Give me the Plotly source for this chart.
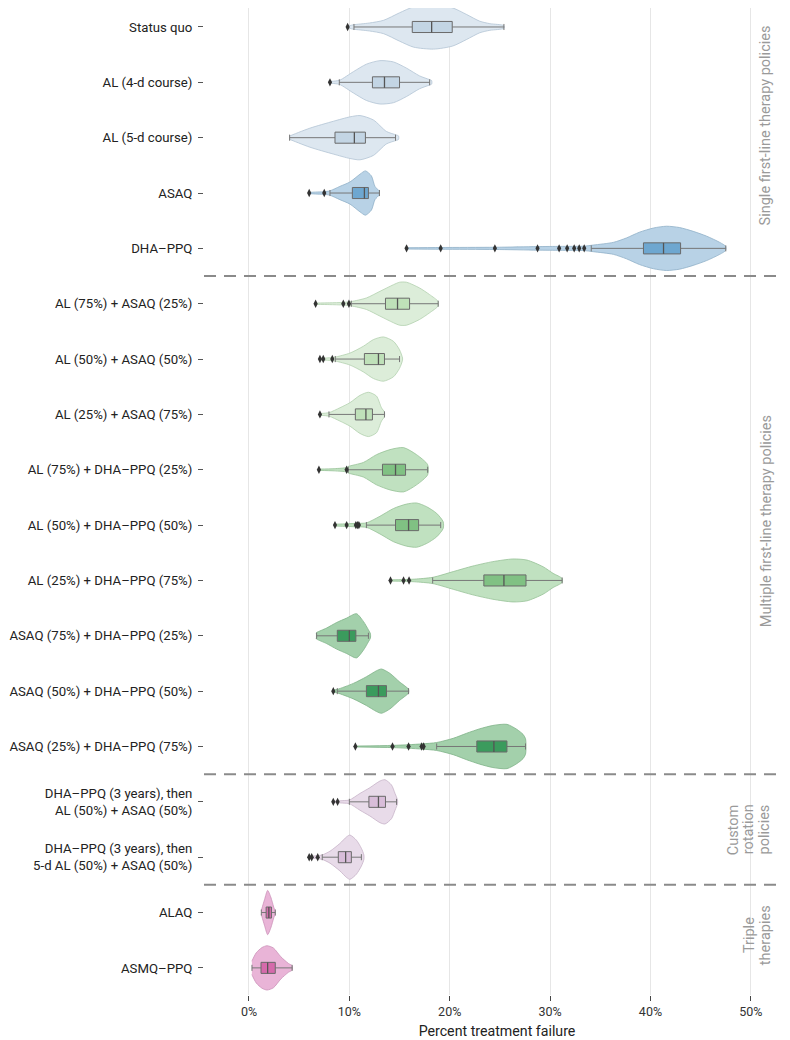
import plotly.graph_objects as go

labels = ["Status quo", "AL (4-d course)", "AL (5-d course)", "ASAQ", "DHA–PPQ",
          "AL (75%) + ASAQ (25%)", "AL (50%) + ASAQ (50%)", "AL (25%) + ASAQ (75%)",
          "AL (75%) + DHA–PPQ (25%)", "AL (50%) + DHA–PPQ (50%)", "AL (25%) + DHA–PPQ (75%)",
          "ASAQ (75%) + DHA–PPQ (25%)", "ASAQ (50%) + DHA–PPQ (50%)", "ASAQ (25%) + DHA–PPQ (75%)",
          "DHA–PPQ (3 years), then<br>AL (50%) + ASAQ (50%)",
          "DHA–PPQ (3 years), then<br>5-d AL (50%) + ASAQ (50%)",
          "ALAQ", "ASMQ–PPQ"]
group = [0, 0, 0, 1, 1, 2, 2, 2, 3, 3, 3, 4, 4, 4, 5, 5, 6, 6]

# box statistics (percent treatment failure)
lower = [10.46, 9.0, 4.05, 8.07, 34.1, 10.2, 8.6, 7.97, 9.9, 11.7, 18.3, 6.74, 8.8, 18.7, 10.0, 7.3, 1.23, 0.3]
q1 = [16.27, 12.3, 8.57, 10.3, 39.3, 13.6, 11.5, 10.6, 13.3, 14.6, 23.4, 8.8, 11.7, 22.7, 11.95, 8.9, 1.71, 1.2]
median = [18.2, 13.5, 10.5, 11.5, 41.3, 14.8, 12.9, 11.65, 14.6, 15.9, 25.4, 10.0, 12.9, 24.4, 12.9, 9.63, 1.98, 1.86]
q3 = [20.25, 15.0, 11.6, 11.9, 43.0, 16.0, 13.5, 12.3, 15.6, 16.9, 27.6, 10.65, 13.7, 25.7, 13.6, 10.2, 2.24, 2.62]
upper = [25.4, 18.0, 14.6, 13.0, 47.5, 18.85, 15.0, 13.5, 17.8, 19.1, 31.2, 11.9, 15.9, 27.55, 14.7, 11.2, 2.62, 4.3]

outliers = [
    [9.83], [8.07], [], [6.0, 7.5],
    [15.7, 19.1, 24.5, 28.75, 30.9, 31.7, 32.4, 32.9, 33.4],
    [6.64, 9.4, 9.96], [7.07, 7.4, 8.3], [7.07], [6.97, 9.73],
    [8.57, 9.73, 10.65, 10.8, 10.95], [14.1, 15.4, 15.95], [], [8.4],
    [10.6, 14.3, 15.9, 17.2, 17.4], [8.4, 8.83], [6.0, 6.25, 6.85], [], [],
]

# violin outline: positions (percent) and relative half-widths (0..1)
violin_x = [
    [9.83, 10.2, 10.4, 12.0, 13.4, 15.0, 16.4, 18.4, 20.3, 21.7, 23.0, 24.0, 25.4],
    [8.07, 8.6, 9.06, 10.4, 11.7, 13.05, 14.4, 15.7, 17.0, 18.0, 18.2],
    [4.0, 4.08, 6.07, 8.4, 10.06, 11.06, 12.4, 13.7, 14.7, 14.9],
    [6.0, 7.0, 7.5, 8.07, 9.06, 10.06, 11.06, 11.6, 12.2, 12.55, 12.98],
    [15.7, 19.1, 24.5, 28.75, 31.0, 33.4, 34.3, 36.3, 37.6, 38.9, 40.3, 41.6, 42.9, 44.25, 45.6, 46.9, 47.5],
    [6.64, 8.0, 9.4, 10.2, 11.7, 13.05, 14.4, 15.0, 15.7, 17.0, 18.0, 18.85],
    [7.07, 7.7, 8.3, 8.7, 10.06, 11.4, 12.4, 13.4, 14.4, 15.0, 15.3],
    [7.07, 7.97, 9.06, 10.06, 11.06, 11.9, 12.7, 13.2, 13.5],
    [6.97, 8.5, 9.73, 9.9, 11.4, 12.7, 14.05, 15.4, 16.7, 17.8],
    [8.57, 9.73, 10.8, 11.7, 13.05, 14.4, 15.7, 16.7, 17.7, 18.7, 19.35],
    [14.1, 15.4, 16.5, 18.3, 20.35, 22.3, 24.3, 26.3, 27.7, 29.3, 30.3, 31.2],
    [6.67, 6.74, 7.73, 8.73, 9.73, 10.7, 11.4, 11.9, 12.1],
    [8.4, 8.8, 10.4, 11.7, 12.7, 13.2, 14.05, 15.0, 15.9],
    [10.6, 14.3, 15.9, 17.3, 18.7, 20.35, 21.7, 23.0, 24.3, 25.7, 26.7, 27.3, 27.55],
    [8.4, 8.83, 9.5, 10.0, 11.06, 12.05, 13.05, 13.55, 14.2, 14.55, 14.8],
    [6.0, 6.85, 7.3, 8.07, 9.06, 9.73, 10.06, 10.7, 11.2, 11.45],
    [1.23, 1.3, 1.56, 1.86, 2.17, 2.5, 2.62],
    [0.29, 0.34, 0.72, 1.3, 1.8, 2.43, 3.18, 3.93, 4.3],
]
violin_w = [
    [0.04, 0.08, 0.1, 0.18, 0.3, 0.64, 0.91, 1.0, 0.86, 0.56, 0.26, 0.15, 0.06],
    [0.04, 0.06, 0.1, 0.48, 0.82, 0.98, 0.92, 0.64, 0.29, 0.12, 0.08],
    [0.06, 0.08, 0.43, 0.74, 0.94, 1.0, 0.8, 0.28, 0.12, 0.08],
    [0.03, 0.05, 0.06, 0.1, 0.3, 0.5, 0.85, 1.0, 0.77, 0.3, 0.08],
    [0.03, 0.04, 0.05, 0.08, 0.09, 0.1, 0.15, 0.27, 0.47, 0.73, 0.92, 1.0, 0.94, 0.77, 0.55, 0.27, 0.09],
    [0.03, 0.04, 0.06, 0.1, 0.26, 0.56, 0.86, 0.97, 0.97, 0.71, 0.41, 0.1],
    [0.04, 0.05, 0.07, 0.1, 0.27, 0.58, 0.88, 1.0, 0.8, 0.42, 0.05],
    [0.04, 0.08, 0.3, 0.53, 0.86, 1.0, 0.83, 0.3, 0.1],
    [0.03, 0.05, 0.1, 0.15, 0.33, 0.68, 0.91, 1.0, 0.68, 0.23],
    [0.04, 0.06, 0.08, 0.1, 0.4, 0.75, 0.95, 1.0, 0.83, 0.53, 0.15],
    [0.03, 0.04, 0.06, 0.14, 0.4, 0.65, 0.85, 0.97, 0.92, 0.62, 0.32, 0.09],
    [0.12, 0.15, 0.35, 0.6, 0.8, 1.0, 0.65, 0.27, 0.1],
    [0.05, 0.08, 0.35, 0.65, 0.92, 1.0, 0.8, 0.42, 0.08],
    [0.02, 0.05, 0.08, 0.12, 0.18, 0.37, 0.6, 0.8, 0.95, 1.0, 0.77, 0.55, 0.35],
    [0.03, 0.04, 0.06, 0.08, 0.38, 0.64, 0.94, 1.0, 0.76, 0.38, 0.08],
    [0.04, 0.07, 0.1, 0.27, 0.62, 0.92, 1.0, 0.77, 0.4, 0.1],
    [0.08, 0.2, 0.6, 1.0, 0.7, 0.2, 0.08],
    [0.3, 0.35, 0.68, 0.92, 1.0, 0.9, 0.5, 0.2, 0.1],
]

violin_fill = ["#dde7f0", "#b8d2e6", "#dcedd9", "#c0e1c0", "#a3d0ab", "#e8dbe9", "#e9b4d7"]
violin_edge = ["#b3c4d4", "#8fb0c8", "#b3d0af", "#97c297", "#7fb288", "#c6b2c8", "#cc92b9"]
box_fill = ["#c3d5e4", "#6ea7d0", "#bfe1b9", "#80c183", "#3b9b5d", "#d8bdd9", "#d56aab"]

# right-hand group labels, one entry per text line
group_lines = ["Single first-line therapy policies", "Multiple first-line therapy policies",
               "Custom", "rotation", "policies", "Triple", "therapies"]
group_line_x = [51.5, 51.5, 48.3, 49.8, 51.4, 49.8, 51.4]
group_line_y = [1.78, 8.93, 14.5, 14.5, 14.5, 16.41, 16.41]
separators = [4.5, 13.5, 15.5]
x_ticks = [0, 10, 20, 30, 40, 50]

HALF = 0.4   # max violin half-height (row units)
BOX = 0.1    # box half-height
CAP = 0.055  # whisker cap half-height

fig = go.Figure()
for i in range(len(labels)):
    g = group[i]
    xs = violin_x[i] + violin_x[i][::-1]
    ys = [i - HALF * w for w in violin_w[i]] + [i + HALF * w for w in violin_w[i][::-1]]
    fig.add_trace(go.Scatter(x=xs, y=ys, mode="lines", fill="toself",
                             fillcolor=violin_fill[g],
                             line=dict(color=violin_edge[g], width=0.8, shape="spline", smoothing=0.7),
                             hoverinfo="skip", showlegend=False))
    # whiskers + caps
    fig.add_trace(go.Scatter(
        x=[lower[i], q1[i], None, q3[i], upper[i], None, lower[i], lower[i], None, upper[i], upper[i]],
        y=[i, i, None, i, i, None, i - CAP, i + CAP, None, i - CAP, i + CAP],
        mode="lines", line=dict(color="#777777", width=1), hoverinfo="skip", showlegend=False))
    # box
    fig.add_trace(go.Scatter(
        x=[q1[i], q3[i], q3[i], q1[i], q1[i]],
        y=[i - BOX, i - BOX, i + BOX, i + BOX, i - BOX],
        mode="lines", fill="toself", fillcolor=box_fill[g],
        line=dict(color="#6a6a6a", width=1), hoverinfo="skip", showlegend=False))
    # median
    fig.add_trace(go.Scatter(x=[median[i], median[i]], y=[i - BOX, i + BOX], mode="lines",
                             line=dict(color="#555555", width=1.3), hoverinfo="skip", showlegend=False))
    if outliers[i]:
        fig.add_trace(go.Scatter(x=outliers[i], y=[i] * len(outliers[i]), mode="markers",
                                 marker=dict(symbol="diamond-tall", size=6, color="#333333"),
                                 hoverinfo="skip", showlegend=False))

shapes = []
for s in separators:
    shapes.append(dict(type="line", xref="paper", x0=0, x1=1, yref="y", y0=s, y1=s,
                       line=dict(color="#8a8a8a", width=2, dash="12px,8px"), layer="above"))

annotations = []
for name, ax, ay in zip(group_lines, group_line_x, group_line_y):
    annotations.append(dict(text=name, x=ax, y=ay, xref="x", yref="y", showarrow=False,
                            textangle=-90, xanchor="center", yanchor="middle",
                            font=dict(size=14.5, color="#9a9a9a", family="Roboto")))

# the page adds an 8px body margin, so the figure is 8px smaller on each axis
fig.update_layout(
    width=782, height=1032,
    margin=dict(l=196, r=0, t=0, b=45),
    plot_bgcolor="white", paper_bgcolor="white",
    font=dict(family="Roboto", size=13.2, color="#222222"),
    shapes=shapes, annotations=annotations,
    xaxis=dict(range=[-4.48, 53.9], tickvals=x_ticks, ticktext=[f"{t}%" for t in x_ticks],
               showgrid=True, gridcolor="#e6e6e6", gridwidth=1, zeroline=False,
               ticks="outside", ticklen=5, tickcolor="#444", showline=False, automargin=False,
               tickfont=dict(size=12.5, color="#333"),
               title=dict(text="Percent treatment failure", font=dict(size=14.2, color="#222"), standoff=8)),
    yaxis=dict(range=[17.49, -0.343], tickvals=list(range(len(labels))), ticktext=labels,
               showgrid=False, zeroline=False, ticks="outside", ticklen=5, tickcolor="#555",
               ticklabelstandoff=3,
               showline=False, automargin=False, tickfont=dict(size=13.2, color="#222")),
)

fig.write_html("out.html")
